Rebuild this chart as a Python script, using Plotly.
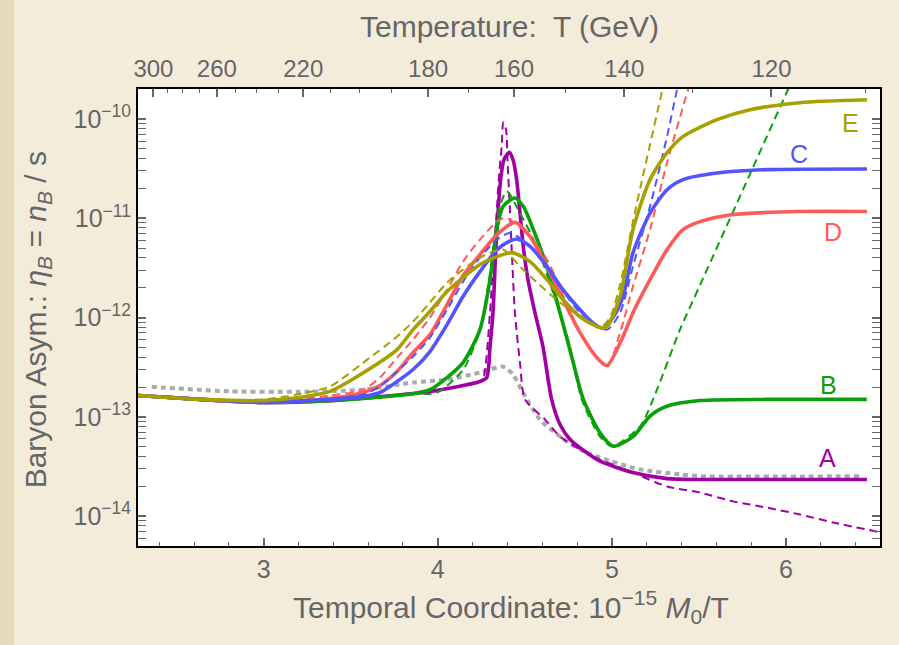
import plotly.graph_objects as go

# ---------------- data ----------------
# temporal coordinate x = 1e-15 M0 / T ; T = K / x
K_GEV = 710.0
top_major_T = [300, 260, 220, 180, 160, 140, 120]
top_minor_T = [290, 280, 270, 250, 240, 230, 210, 200, 190, 170, 150, 130, 110]
bottom_major = [3, 4, 5, 6]
bottom_minor = [2.4, 2.6, 2.8, 3.2, 3.4, 3.6, 3.8, 4.2, 4.4, 4.6, 4.8, 5.2, 5.4, 5.6, 5.8, 6.2, 6.4]
y_major = [1e-14, 1e-13, 1e-12, 1e-11, 1e-10]
y_major_text = ["10<sup>\u221214</sup>", "10<sup>\u221213</sup>", "10<sup>\u221212</sup>",
                "10<sup>\u221211</sup>", "10<sup>\u221210</sup>"]

# A (purple)
A_x = [2.278, 2.634, 3.0, 3.381, 3.668, 3.955, 4.242, 4.281, 4.300, 4.317, 4.334, 4.346, 4.361, 4.380,
       4.411, 4.432, 4.453, 4.472, 4.491, 4.518, 4.558, 4.604, 4.654, 4.702, 4.760, 4.846, 4.932, 5.121,
       5.317, 5.506, 6.465]
A_y = [1.64e-13, 1.50e-13, 1.40e-13, 1.46e-13, 1.60e-13, 1.80e-13, 2.27e-13, 2.49e-13, 5.1e-13, 1.12e-12,
       5.19e-12, 1.14e-11, 2.45e-11, 3.89e-11, 4.61e-11, 3.89e-11, 2.45e-11, 1.14e-11, 5.19e-12, 2.41e-12,
       1.12e-12, 5.1e-13, 1.50e-13, 8.38e-14, 5.92e-14, 4.48e-14, 3.58e-14, 2.75e-14, 2.39e-14, 2.34e-14,
       2.34e-14]
A_dx = [2.278, 2.634, 3.0, 3.381, 3.668, 3.955, 4.242, 4.260, 4.300, 4.317, 4.338, 4.353, 4.367, 4.376,
        4.392, 4.401, 4.415, 4.428, 4.443, 4.472, 4.501, 4.616, 4.702, 4.817, 4.932, 5.121, 5.317, 5.506,
        5.696, 5.891, 6.080, 6.270, 6.540]
A_dy = [1.64e-13, 1.50e-13, 1.40e-13, 1.46e-13, 1.60e-13, 1.80e-13, 2.27e-13, 2.38e-13, 1.12e-12, 3.58e-12,
        1.14e-11, 2.88e-11, 5.30e-11, 9.25e-11, 7.80e-11, 3.63e-11, 1.14e-11, 3.58e-12, 1.12e-12, 3.52e-13,
        1.50e-13, 9.40e-14, 6.34e-14, 4.69e-14, 3.72e-14, 2.75e-14, 1.99e-14, 1.73e-14, 1.41e-14, 1.22e-14,
        1.04e-14, 8.65e-15, 6.9e-15]

# B (green)
B_x = [2.278, 2.635, 3.0, 3.381, 3.570, 3.766, 3.858, 3.955, 4.053, 4.145, 4.242, 4.300, 4.338, 4.376,
       4.443, 4.491, 4.549, 4.626, 4.702, 4.778, 4.836, 4.932, 5.008, 5.123, 5.219, 5.315, 5.506, 5.889, 6.464]
B_y = [1.64e-13, 1.50e-13, 1.40e-13, 1.46e-13, 1.53e-13, 1.64e-13, 1.71e-13, 1.88e-13, 2.49e-13, 3.52e-13,
       7.57e-13, 2.41e-12, 7.69e-12, 1.32e-11, 1.60e-11, 1.32e-11, 7.69e-12, 3.28e-12, 1.12e-12, 3.52e-13,
       1.50e-13, 6.91e-14, 5.07e-14, 6.38e-14, 1.02e-13, 1.28e-13, 1.46e-13, 1.50e-13, 1.50e-13]
B_dx = [2.278, 2.634, 3.0, 3.381, 3.668, 3.858, 3.994, 4.146, 4.242, 4.300, 4.347, 4.396, 4.472, 4.568,
        4.663, 4.759, 4.827, 4.932, 5.001, 5.161, 5.259, 5.391, 5.506, 5.793, 6.011, 6.089]
B_dy = [1.64e-13, 1.50e-13, 1.40e-13, 1.46e-13, 1.60e-13, 1.70e-13, 1.75e-13, 3.00e-13, 7.57e-13, 2.82e-12,
        1.13e-11, 1.87e-11, 1.13e-11, 5.22e-12, 1.77e-12, 5.14e-13, 1.50e-13, 6.34e-14, 5.07e-14, 8.00e-14,
        1.88e-13, 7.57e-13, 2.12e-12, 2.78e-11, 1.97e-10, 3.95e-10]

# C (blue)
C_x = [2.278, 2.635, 3.0, 3.381, 3.570, 3.668, 3.766, 3.858, 3.955, 4.053, 4.145, 4.242, 4.340, 4.397,
       4.455, 4.530, 4.627, 4.719, 4.817, 4.891, 4.949, 5.006, 5.064, 5.121, 5.219, 5.317, 5.408, 5.604,
       5.891, 6.465]
C_y = [1.64e-13, 1.50e-13, 1.40e-13, 1.50e-13, 1.60e-13, 1.76e-13, 2.27e-13, 3.00e-13, 4.55e-13, 8.50e-13,
       1.63e-12, 2.90e-12, 4.84e-12, 5.69e-12, 6.19e-12, 5.22e-12, 3.28e-12, 1.91e-12, 1.20e-12, 8.85e-13,
       7.83e-13, 1.00e-12, 1.63e-12, 4.48e-12, 1.13e-11, 1.94e-11, 2.45e-11, 2.86e-11, 3.09e-11, 3.14e-11]
C_dx = [2.278, 2.635, 3.0, 3.381, 3.570, 3.668, 3.766, 3.858, 3.955, 4.053, 4.145, 4.242, 4.340, 4.415,
        4.530, 4.817, 4.972, 5.047, 5.121, 5.219, 5.317, 5.374, 5.432]
C_dy = [1.64e-13, 1.50e-13, 1.40e-13, 1.53e-13, 1.68e-13, 2.03e-13, 2.86e-13, 4.05e-13, 6.29e-13, 1.20e-12,
        2.30e-12, 4.02e-12, 6.10e-12, 7.12e-12, 5.22e-12, 1.12e-12, 7.57e-13, 1.12e-12, 3.28e-12, 1.32e-11,
        6.68e-11, 1.97e-10, 5.22e-10]

# D (red)
D_x = [2.278, 2.635, 3.0, 3.381, 3.570, 3.668, 3.766, 3.858, 3.955, 4.053, 4.145, 4.242, 4.340, 4.443,
       4.530, 4.627, 4.719, 4.817, 4.914, 4.972, 5.056, 5.121, 5.219, 5.317, 5.408, 5.506, 5.696, 6.080, 6.465]
D_y = [1.64e-13, 1.50e-13, 1.40e-13, 1.53e-13, 1.76e-13, 2.07e-13, 2.86e-13, 4.45e-13, 6.74e-13, 1.35e-12,
       2.65e-12, 4.31e-12, 6.85e-12, 9.10e-12, 6.53e-12, 3.26e-12, 1.52e-12, 7.06e-13, 3.95e-13, 3.29e-13,
       6.01e-13, 1.12e-12, 2.41e-12, 4.84e-12, 7.69e-12, 9.25e-12, 1.09e-11, 1.17e-11, 1.17e-11]
D_dx = [2.278, 2.635, 3.0, 3.381, 3.570, 3.668, 3.766, 3.858, 3.955, 4.053, 4.145, 4.242, 4.340, 4.386,
        4.489, 4.627, 4.817, 4.972, 5.047, 5.121, 5.219, 5.317, 5.437, 5.506]
D_dy = [1.64e-13, 1.50e-13, 1.40e-13, 1.64e-13, 1.88e-13, 2.49e-13, 3.95e-13, 6.01e-13, 1.00e-12, 1.91e-12,
        3.66e-12, 6.10e-12, 9.25e-12, 1.01e-11, 7.69e-12, 3.84e-12, 7.06e-13, 3.21e-13, 7.06e-13, 2.05e-12,
        7.69e-12, 3.63e-11, 1.97e-10, 5.22e-10]

# E (olive)
E_x = [2.278, 2.635, 3.0, 3.191, 3.381, 3.570, 3.766, 3.858, 3.955, 4.053, 4.145, 4.242, 4.340, 4.426,
       4.530, 4.627, 4.719, 4.817, 4.932, 4.972, 5.047, 5.121, 5.219, 5.317, 5.408, 5.604, 5.793, 6.080, 6.465]
E_y = [1.64e-13, 1.50e-13, 1.46e-13, 1.56e-13, 1.81e-13, 2.77e-13, 4.76e-13, 7.57e-13, 1.15e-12, 1.83e-12,
       2.53e-12, 3.42e-12, 4.11e-12, 4.51e-12, 3.66e-12, 2.41e-12, 1.52e-12, 1.02e-12, 7.93e-13, 8.12e-13,
       1.63e-12, 7.69e-12, 2.45e-11, 4.58e-11, 6.64e-11, 9.84e-11, 1.24e-10, 1.46e-10, 1.56e-10]
E_dx = [2.278, 2.635, 3.0, 3.191, 3.381, 3.570, 3.766, 3.858, 3.955, 4.053, 4.145, 4.242, 4.374, 4.472,
        4.570, 4.702, 4.817, 4.932, 4.989, 5.047, 5.123, 5.180, 5.219, 5.286, 5.334]
E_dy = [1.64e-13, 1.50e-13, 1.50e-13, 1.68e-13, 2.03e-13, 3.50e-13, 6.44e-13, 9.12e-13, 1.42e-12, 2.25e-12,
        3.04e-12, 4.02e-12, 4.84e-12, 3.26e-12, 2.25e-12, 1.42e-12, 1.02e-12, 7.93e-13, 1.00e-12, 2.15e-12,
        9.69e-12, 2.75e-11, 5.51e-11, 1.84e-10, 4.14e-10]

# gray dotted reference curve
G_x = [2.357, 2.806, 3.190, 3.570, 3.858, 4.053, 4.242, 4.374, 4.432, 4.489, 4.587, 4.702, 4.817, 4.932,
       5.161, 5.391, 5.506, 6.425]
G_y = [2.01e-13, 1.81e-13, 1.79e-13, 1.88e-13, 2.22e-13, 2.38e-13, 2.79e-13, 3.21e-13, 2.67e-13, 1.76e-13,
       9.40e-14, 6.34e-14, 4.69e-14, 3.90e-14, 2.96e-14, 2.64e-14, 2.53e-14, 2.53e-14]

labels = ["E", "C", "D", "B", "A"]

# ---------------- styling ----------------
PURPLE = "#a000a4"
GREEN = "#0aa00a"
BLUE = "#5454ff"
RED = "#ff5a5a"
OLIVE = "#a6a000"
GRAY = "#aaaaaa"
TXT = "#666666"
FONT = "Liberation Sans"
PAPER = "#f4ecdb"

fig = go.Figure()


def add(x, y, color, width, dash):
    fig.add_trace(go.Scatter(x=x, y=y, mode="lines",
                             line=dict(color=color, width=width, dash=dash, shape="spline", smoothing=0.7),
                             hoverinfo="skip", showlegend=False))


add(G_x, G_y, GRAY, 4, "5px,4px")
for sx, sy, dx, dy, col in [(A_x, A_y, A_dx, A_dy, PURPLE), (B_x, B_y, B_dx, B_dy, GREEN),
                            (D_x, D_y, D_dx, D_dy, RED), (C_x, C_y, C_dx, C_dy, BLUE),
                            (E_x, E_y, E_dx, E_dy, OLIVE)]:
    add(sx, sy, col, 3.6, "solid")
    add(dx, dy, col, 2, "8px,5px")

# invisible trace that carries the top (temperature) axis
fig.add_trace(go.Scatter(x=G_x, y=G_y, xaxis="x2", mode="lines", line=dict(width=0),
                         opacity=0, hoverinfo="skip", showlegend=False))

XR = [2.278, 6.54]
fig.update_layout(
    width=899, height=645,
    margin=dict(l=138, r=19, t=89, b=99),
    paper_bgcolor=PAPER,
    plot_bgcolor="white",
    font=dict(family=FONT, color=TXT, size=22),
    xaxis=dict(range=XR, tickvals=bottom_major, ticks="inside", ticklen=8, tickwidth=1.5,
               tickcolor="#666", showline=True, linecolor="black", linewidth=2, showgrid=False,
               zeroline=False, tickfont=dict(size=25, color=TXT),
               minor=dict(tickvals=bottom_minor, ticks="inside", ticklen=4, tickwidth=1, tickcolor="#666")),
    xaxis2=dict(range=XR, overlaying="x", side="top", anchor="y",
                tickvals=[K_GEV / t for t in top_major_T], ticktext=[str(t) for t in top_major_T],
                ticks="inside", ticklen=8, tickwidth=1.5, tickcolor="#666",
                showline=True, linecolor="black", linewidth=2, showgrid=False, zeroline=False,
                tickfont=dict(size=24, color=TXT),
                minor=dict(tickvals=[K_GEV / t for t in top_minor_T], ticks="inside", ticklen=4,
                           tickwidth=1, tickcolor="#666")),
    yaxis=dict(type="log", range=[-14.3, -9.698], tickvals=y_major, ticktext=y_major_text,
               ticks="inside", ticklen=8, tickwidth=1.5, tickcolor="#666", mirror="allticks",
               showline=True, linecolor="black", linewidth=2, showgrid=False, zeroline=False,
               tickfont=dict(size=25, color=TXT),
               minor=dict(tickvals=[m * d for d in [1e-15, 1e-14, 1e-13, 1e-12, 1e-11, 1e-10]
                                    for m in range(2, 10)],
                          ticks="inside", ticklen=4, tickwidth=1, tickcolor="#666")),
)

# axis titles
fig.add_annotation(text="Temperature:  T (GeV)", xref="paper", yref="paper", x=0.5, y=1.136,
                   showarrow=False, xanchor="center", yanchor="middle", font=dict(size=30, color=TXT))
fig.add_annotation(text="Temporal Coordinate: 10<sup>\u221215</sup> <i>M</i><sub>0</sub>/T",
                   xref="paper", yref="paper", x=0.503, y=-0.134, showarrow=False,
                   xanchor="center", yanchor="middle", font=dict(size=30, color=TXT))
fig.add_annotation(text="Baryon Asym.: <i>\u03b7<sub>B</sub></i> = <i>n<sub>B</sub></i> / s",
                   xref="paper", yref="paper", x=-0.136, y=0.494, textangle=-90, showarrow=False,
                   xanchor="center", yanchor="middle", font=dict(size=30, color=TXT))

# curve labels
for lab, px, py, col in zip(labels, [0.9596, 0.891, 0.9367, 0.930, 0.9286],
                            [0.9256, 0.858, 0.687, 0.352, 0.1926],
                            [OLIVE, BLUE, RED, GREEN, PURPLE]):
    fig.add_annotation(text=lab, xref="paper", yref="paper", x=px, y=py, showarrow=False,
                       xanchor="center", yanchor="middle", font=dict(size=25, color=col))

# darker paper strip on the far left
fig.add_shape(type="rect", xref="paper", yref="paper", x0=-0.19, x1=-0.167, y0=-0.25, y1=1.25,
              fillcolor="#e8dabd", line=dict(width=0), layer="below")

fig.write_html("out.html", config={"displayModeBar": False},
               post_script="document.body.style.margin='0px';"
                           "document.body.style.background='" + PAPER + "';")
